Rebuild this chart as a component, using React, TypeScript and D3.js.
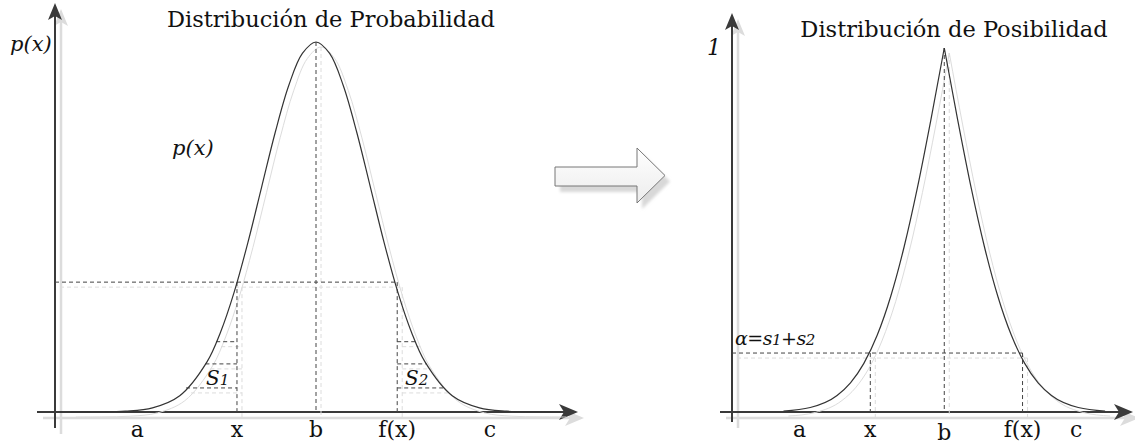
import React from "react";
import * as d3 from "d3";

// ---- Data (x in σ units, b = 0) ----
const probX = [-4.5, -4, -3.5, -3, -2.5, -2, -1.75, -1.5, -1.25, -1, -0.75, -0.5, -0.25, 0, 0.25, 0.5, 0.75, 1, 1.25, 1.5, 1.75, 2, 2.5, 3, 3.5, 4, 4.5];
const probY = [0.00004, 0.0003, 0.0022, 0.0111, 0.0439, 0.1353, 0.2163, 0.3247, 0.4578, 0.6065, 0.7548, 0.8825, 0.969, 1, 0.969, 0.8825, 0.7548, 0.6065, 0.4578, 0.3247, 0.2163, 0.1353, 0.0439, 0.0111, 0.0022, 0.0003, 0.00004];

const posLeftX = [-3, -2.5, -2, -1.75, -1.5, -1.25, -1, -0.75, -0.5, -0.25, 0];
const posLeftY = [0.0027, 0.0124, 0.0455, 0.0801, 0.1336, 0.2113, 0.3173, 0.4533, 0.617, 0.8026, 1];
const posRightX = [0, 0.25, 0.5, 0.75, 1, 1.25, 1.5, 1.75, 2, 2.5, 3];
const posRightY = [1, 0.8026, 0.617, 0.4533, 0.3173, 0.2113, 0.1336, 0.0801, 0.0455, 0.0124, 0.0027];

const probTickNames = ["a", "x", "b", "f(x)", "c"];
const probTickPos = [-3.28, -1.45, 0, 1.49, 3.19];
const posTickNames = ["a", "x", "b", "f(x)", "c"];
const posTickPos = [-2.7, -1.38, 0, 1.46, 2.46];

const probLevel = 0.351;
const alphaLevel = 0.162;
const stripLevels = [0.19, 0.13, 0.065];

const FONT = "'DejaVu Serif', serif";
const DARK = "#3a3a3a";
const SHADOW = "#dcdcdc";

function invert(xs: number[], ys: number[], level: number): number {
  for (let i = 0; i < xs.length - 1; i++) {
    const y0 = ys[i], y1 = ys[i + 1];
    if ((y0 - level) * (y1 - level) <= 0 && y0 !== y1) {
      const t = (level - y0) / (y1 - y0);
      return xs[i] + t * (xs[i + 1] - xs[i]);
    }
  }
  return xs[0];
}

type Seg = [number, number, number, number];

function Dashes({ segs, off = 5 }: { segs: Seg[]; off?: number }) {
  return (
    <g>
      {segs.map((s, i) => (
        <line key={"s" + i} x1={s[0] + off} y1={s[1] + off} x2={s[2] + off} y2={s[3] + off} stroke={SHADOW} strokeWidth={1} strokeDasharray="4,3" />
      ))}
      {segs.map((s, i) => (
        <line key={"d" + i} x1={s[0]} y1={s[1]} x2={s[2]} y2={s[3]} stroke="#444" strokeWidth={1} strokeDasharray="4,3" />
      ))}
    </g>
  );
}

function Axes({ ox, oy, top, right, left, bottom }: { ox: number; oy: number; top: number; right: number; left: number; bottom: number }) {
  const off = 6;
  const upHead = (x: number, y: number) => `M${x},${y} L${x + 7},${y + 17} L${x},${y + 13} L${x - 7},${y + 17} Z`;
  const rightHead = (x: number, y: number) => `M${x},${y} L${x - 19},${y - 8} L${x - 14},${y} L${x - 19},${y + 8} Z`;
  return (
    <g>
      <g>
        <line x1={ox + off} y1={bottom + off} x2={ox + off} y2={top + 12 + off} stroke={SHADOW} strokeWidth={2.5} />
        <line x1={left + off} y1={oy + off} x2={right - 12 + off} y2={oy + off} stroke={SHADOW} strokeWidth={2.5} />
        <path d={upHead(ox + off, top + off)} fill={SHADOW} />
        <path d={rightHead(right + off, oy + off)} fill={SHADOW} />
      </g>
      <line x1={ox} y1={bottom} x2={ox} y2={top + 12} stroke={DARK} strokeWidth={2} />
      <line x1={left} y1={oy} x2={right - 12} y2={oy} stroke={DARK} strokeWidth={2} />
      <path d={upHead(ox, top)} fill={DARK} />
      <path d={rightHead(right, oy)} fill={DARK} />
    </g>
  );
}

export default function App() {
  const W = 1135, H = 446;

  // Left chart scales
  const xL = d3.scaleLinear().domain([-4.8, 4.8]).range([54.4, 577.6]);
  const yL = d3.scaleLinear().domain([0, 1]).range([412, 42]);
  // Right chart scales
  const xR = d3.scaleLinear().domain([-3.96, 3.5]).range([732, 1131.9]);
  const yR = d3.scaleLinear().domain([0, 1]).range([412, 48]);

  const probPts = probX.map((x, i) => [x, probY[i]] as [number, number]);
  const lineL = d3.line<[number, number]>().x(d => xL(d[0])).y(d => yL(d[1])).curve(d3.curveCatmullRom);
  const probPath = lineL(probPts) || "";

  const lineR = d3.line<[number, number]>().x(d => xR(d[0])).y(d => yR(d[1])).curve(d3.curveMonotoneX);
  const posLPath = lineR(posLeftX.map((x, i) => [x, posLeftY[i]] as [number, number])) || "";
  const posRPath = lineR(posRightX.map((x, i) => [x, posRightY[i]] as [number, number])) || "";

  // Left dashed lines
  const xLx = xL(probTickPos[1]);
  const xLf = xL(probTickPos[3]);
  const yLevel = yL(probLevel);
  const leftHalfX = probX.slice(0, 14), leftHalfY = probY.slice(0, 14);
  const rightHalfX = probX.slice(13), rightHalfY = probY.slice(13);
  const leftSegs: Seg[] = [
    [55, yLevel, xLf, yLevel],
    [xLx, yLevel, xLx, 412],
    [xLf, yLevel, xLf, 412],
    [xL(0), yL(1), xL(0), 412],
    ...stripLevels.map(l => [xL(invert(leftHalfX, leftHalfY, l)), yL(l), xLx, yL(l)] as Seg),
    ...stripLevels.map(l => [xLf, yL(l), xL(invert(rightHalfX, rightHalfY, l)), yL(l)] as Seg),
  ];

  const xRx = xR(posTickPos[1]);
  const xRf = xR(posTickPos[3]);
  const yAlpha = yR(alphaLevel);
  const rightSegs: Seg[] = [
    [732, yAlpha, xRf, yAlpha],
    [xRx, yAlpha, xRx, 412],
    [xRf, yAlpha, xRf, 412],
    [xR(0), yR(1), xR(0), 412],
  ];

  const arrowPts = "555,167 637,167 637,148 665,175.5 637,203 637,186 555,186";

  return (
    <svg width={W} height={H} style={{ position: "absolute", left: 0, top: 0, background: "#fff" }}>
      <defs>
        <linearGradient id="arrowFill" x1="0" y1="0" x2="0" y2="1">
          <stop offset="0" stopColor="#ffffff" />
          <stop offset="1" stopColor="#ececec" />
        </linearGradient>
        <filter id="blur" x="-20%" y="-20%" width="140%" height="140%">
          <feGaussianBlur stdDeviation="1.5" />
        </filter>
      </defs>

      {/* ---------- Left: probability ---------- */}
      <Axes ox={55} oy={412} top={3} right={578} left={37} bottom={428} />
      <path d={probPath} transform="translate(5,5)" fill="none" stroke={SHADOW} strokeWidth={1} />
      <Dashes segs={leftSegs} />
      <path d={probPath} fill="none" stroke="#333" strokeWidth={1.2} />

      <text x={331} y={27} fontFamily={FONT} fontSize={22.5} textAnchor="middle" fill="#111">Distribución de Probabilidad</text>
      <text x={10} y={51} fontFamily={FONT} fontSize={21} fontStyle="italic" fill="#111">p(x)</text>
      <text x={172} y={155} fontFamily={FONT} fontSize={21} fontStyle="italic" fill="#111">p(x)</text>
      <text x={206} y={385} fontFamily={FONT} fontSize={20} fontStyle="italic" fill="#111">S<tspan fontSize={15}>1</tspan></text>
      <text x={405} y={385} fontFamily={FONT} fontSize={20} fontStyle="italic" fill="#111">S<tspan fontSize={15}>2</tspan></text>
      {probTickNames.map((n, i) => (
        <text key={n + i} x={xL(probTickPos[i])} y={437} fontFamily={FONT} fontSize={22} textAnchor="middle" fill="#111">{n}</text>
      ))}

      {/* ---------- Middle arrow ---------- */}
      <polygon points={arrowPts} transform="translate(5,6)" fill="#d8d8d8" filter="url(#blur)" />
      <polygon points={arrowPts} fill="url(#arrowFill)" stroke="#777" strokeWidth={1} />

      {/* ---------- Right: possibility ---------- */}
      <Axes ox={732} oy={412} top={13} right={1133} left={720} bottom={422} />
      <path d={posLPath} transform="translate(5,5)" fill="none" stroke={SHADOW} strokeWidth={1} />
      <path d={posRPath} transform="translate(5,5)" fill="none" stroke={SHADOW} strokeWidth={1} />
      <Dashes segs={rightSegs} />
      <path d={posLPath} fill="none" stroke="#333" strokeWidth={1.2} />
      <path d={posRPath} fill="none" stroke="#333" strokeWidth={1.2} />

      <text x={954} y={37} fontFamily={FONT} fontSize={22.5} textAnchor="middle" fill="#111">Distribución de Posibilidad</text>
      <text x={707} y={55} fontFamily={FONT} fontSize={22} fontStyle="italic" fill="#111">1</text>
      <text x={735} y={345} fontFamily={FONT} fontSize={19} fontStyle="italic" fill="#111" letterSpacing={-0.5}>
        α=s<tspan fontSize={15}>1</tspan><tspan fontStyle="normal">+</tspan>s<tspan fontSize={15}>2</tspan>
      </text>
      {posTickNames.map((n, i) => (
        <text key={n + i} x={xR(posTickPos[i])} y={n === "b" ? 440 : 437} fontFamily={FONT} fontSize={22} textAnchor="middle" fill="#111">{n}</text>
      ))}
    </svg>
  );
}
